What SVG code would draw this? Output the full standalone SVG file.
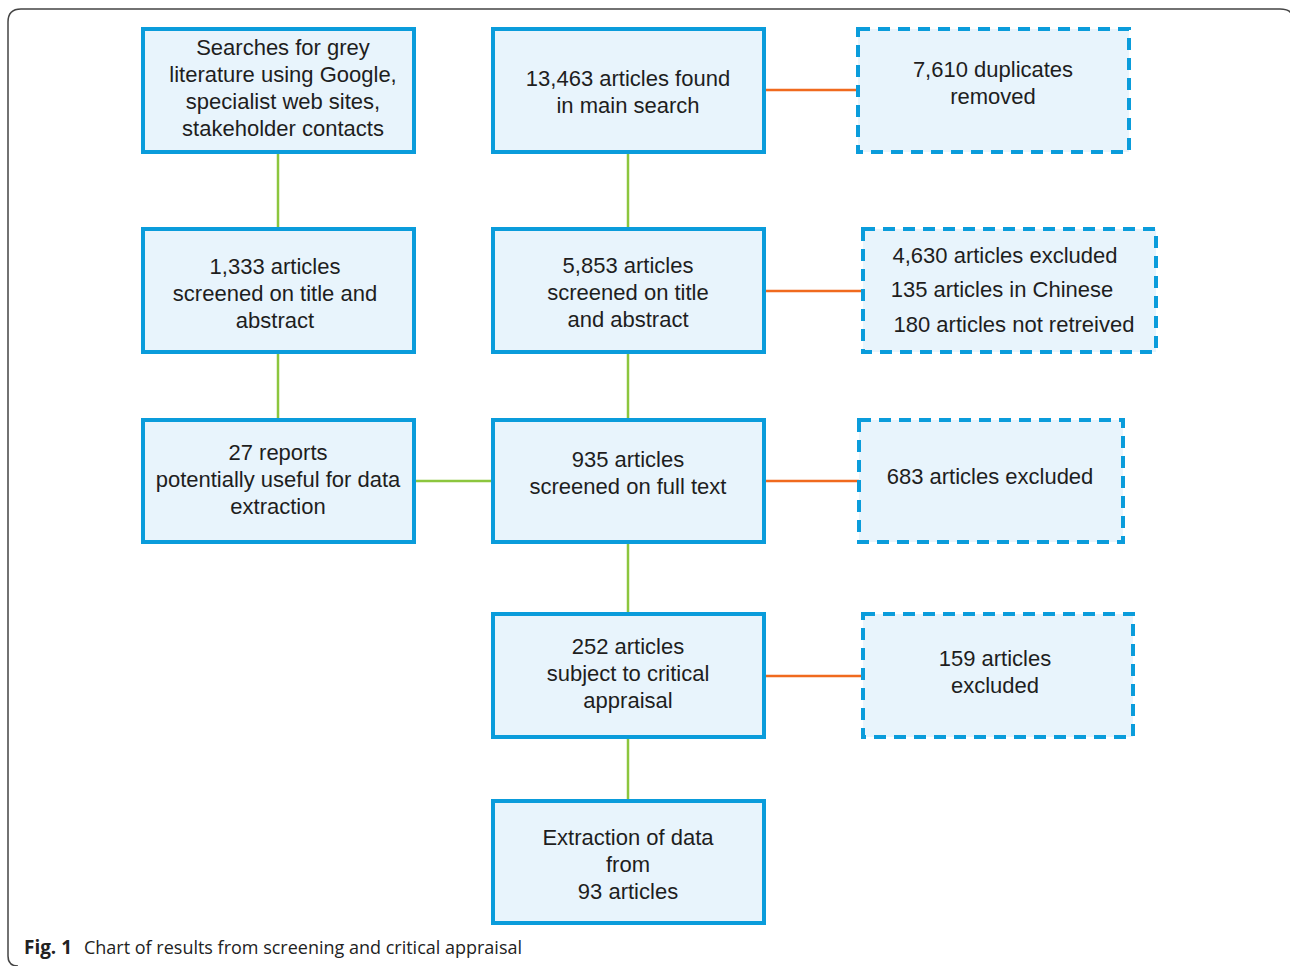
<svg xmlns="http://www.w3.org/2000/svg" width="1290" height="966" viewBox="0 0 1290 966">
<style>
.box{fill:#e8f4fc;stroke:#0a9cdb;stroke-width:4}
.dash{fill:#e8f4fc;stroke:#0a9cdb;stroke-width:4;stroke-dasharray:12 8}
.t{font-family:"Liberation Sans",Arial,sans-serif;font-size:22px;fill:#1e1e1e;text-anchor:middle}
.g{stroke:#8cc63e;stroke-width:2.5;fill:none}
.o{stroke:#f06a1e;stroke-width:2.5;fill:none}
.cap{font-family:"Open Sans","Liberation Sans",sans-serif;font-size:19px;fill:#222}
</style>
<rect width="1290" height="966" fill="#fff"/>
<path d="M18,966 Q8,966 8,956 L8,22 Q8,9 21,9 L1280,9 Q1290,9 1292,15" fill="none" stroke="#444" stroke-width="1.5"/>
<g id="connectors">
<line class="g" x1="278" y1="153" x2="278" y2="229"/>
<line class="g" x1="278" y1="353" x2="278" y2="420"/>
<line class="g" x1="628" y1="153" x2="628" y2="229"/>
<line class="g" x1="628" y1="353" x2="628" y2="420"/>
<line class="g" x1="628" y1="543" x2="628" y2="614"/>
<line class="g" x1="628" y1="738" x2="628" y2="801"/>
<line class="g" x1="414" y1="481" x2="492" y2="481"/>
<line class="o" x1="765" y1="90" x2="858" y2="90"/>
<line class="o" x1="765" y1="291" x2="863" y2="291"/>
<line class="o" x1="765" y1="481" x2="859" y2="481"/>
<line class="o" x1="765" y1="676" x2="863" y2="676"/>
</g>
<g id="A"><rect class="box" x="143" y="29" width="271" height="123"/>
<text class="t" x="283" y="55">Searches for grey</text><text class="t" x="283" y="82">literature using Google,</text><text class="t" x="283" y="109">specialist web sites,</text><text class="t" x="283" y="136">stakeholder contacts</text></g>
<g id="B"><rect class="box" x="493" y="29" width="271" height="123"/>
<text class="t" x="628" y="86">13,463 articles found</text><text class="t" x="628" y="113">in main search</text></g>
<g id="C"><rect class="dash" x="858" y="29" width="271" height="123"/>
<text class="t" x="993" y="77">7,610 duplicates</text><text class="t" x="993" y="104">removed</text></g>
<g id="D"><rect class="box" x="143" y="229" width="271" height="123"/>
<text class="t" x="275" y="274">1,333 articles</text><text class="t" x="275" y="301">screened on title and</text><text class="t" x="275" y="328">abstract</text></g>
<g id="E"><rect class="box" x="493" y="229" width="271" height="123"/>
<text class="t" x="628" y="273">5,853 articles</text><text class="t" x="628" y="300">screened on title</text><text class="t" x="628" y="327">and abstract</text></g>
<g id="F"><rect class="dash" x="863" y="229" width="293" height="123"/>
<text class="t" x="1005" y="263">4,630 articles excluded</text><text class="t" x="1002" y="297">135 articles in Chinese</text><text class="t" x="1014" y="332">180 articles not retreived</text></g>
<g id="G"><rect class="box" x="143" y="420" width="271" height="122"/>
<text class="t" x="278" y="460">27 reports</text><text class="t" x="278" y="487">potentially useful for data</text><text class="t" x="278" y="514">extraction</text></g>
<g id="H"><rect class="box" x="493" y="420" width="271" height="122"/>
<text class="t" x="628" y="467">935 articles</text><text class="t" x="628" y="494">screened on full text</text></g>
<g id="I"><rect class="dash" x="859" y="420" width="264" height="122"/>
<text class="t" x="990" y="484">683 articles excluded</text></g>
<g id="J"><rect class="box" x="493" y="614" width="271" height="123"/>
<text class="t" x="628" y="654">252 articles</text><text class="t" x="628" y="681">subject to critical</text><text class="t" x="628" y="708">appraisal</text></g>
<g id="K"><rect class="dash" x="863" y="614" width="270" height="123"/>
<text class="t" x="995" y="666">159 articles</text><text class="t" x="995" y="693">excluded</text></g>
<g id="L"><rect class="box" x="493" y="801" width="271" height="122"/>
<text class="t" x="628" y="845">Extraction of data</text><text class="t" x="628" y="872">from</text><text class="t" x="628" y="899">93 articles</text></g>
<g id="caption">
<text class="cap" x="24" y="954" font-weight="bold" textLength="48" lengthAdjust="spacingAndGlyphs">Fig. 1</text>
<text class="cap" x="84" y="954" textLength="438" lengthAdjust="spacingAndGlyphs">Chart of results from screening and critical appraisal</text>
</g>
</svg>
